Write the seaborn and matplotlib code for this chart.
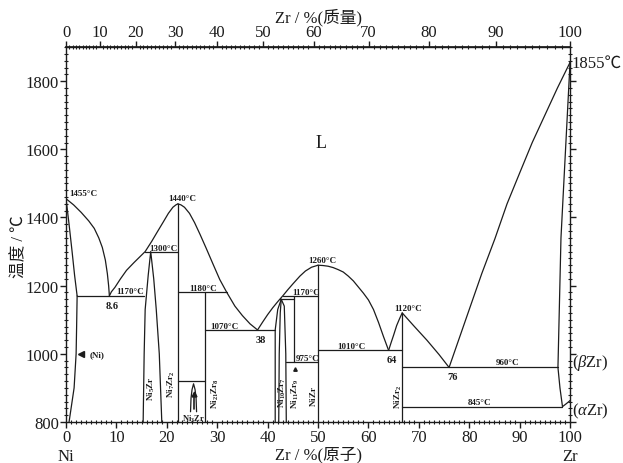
import matplotlib
matplotlib.use("Agg")
import matplotlib.pyplot as plt
from matplotlib.ticker import MultipleLocator, FixedLocator
import numpy as np
import pandas as pd
import seaborn as sns

sns.set_theme(style="ticks")
plt.rcParams["font.family"] = ["Liberation Serif", "Noto Sans CJK SC", "DejaVu Sans"]
plt.rcParams["mathtext.fontset"] = "custom"
plt.rcParams["mathtext.rm"] = "Liberation Serif"
plt.rcParams["mathtext.it"] = "Liberation Serif:italic"
plt.rcParams["mathtext.bf"] = "Liberation Serif:bold"

# ---- Ni-Zr phase boundaries: x = at.% Zr, T = temperature (°C) ----
T_MELT_NI = 1455
T_MELT_ZR = 1855

liq_ni_x = [0, 1.5, 3.0, 4.5, 5.6, 6.5, 7.2, 7.8, 8.2, 8.45, 8.6]
liq_ni_T = [1455, 1437, 1415, 1390, 1368, 1340, 1312, 1275, 1235, 1200, 1170]

liq_a_x = [8.6, 9.0, 9.7, 10.8, 12.0, 13.5, 15.7, 17.0, 18.0, 19.3, 20.3, 21.2, 21.8, 22.2]
liq_a_T = [1170, 1182, 1195, 1220, 1245, 1268, 1300, 1330, 1355, 1387, 1412, 1430, 1437, 1440]

liq_b_x = [22.2, 22.8, 23.5, 24.5, 25.5, 26.6, 27.8, 29.2, 30.5, 31.9, 33.5, 35.0, 36.5, 38.0]
liq_b_T = [1440, 1437, 1430, 1412, 1385, 1350, 1310, 1262, 1218, 1180, 1140, 1112, 1088, 1070]

liq_c_x = [38.0, 39.0, 40.0, 41.0, 42.0, 43.0, 44.0, 45.0, 46.4, 47.5, 48.7, 50.0]
liq_c_T = [1070, 1093, 1115, 1135, 1153, 1170, 1188, 1205, 1228, 1243, 1254, 1260]

liq_d_x = [50.0, 51.0, 52.0, 53.0, 54.0, 55.0, 56.0, 57.0, 58.0, 59.0, 60.0, 61.0, 62.0, 63.0, 64.0]
liq_d_T = [1260, 1259, 1257, 1253, 1247, 1240, 1228, 1214, 1196, 1178, 1158, 1130, 1092, 1050, 1010]

liq_e_x = [64.0, 64.5, 65.0, 65.6, 66.2, 66.7]
liq_e_T = [1010, 1033, 1055, 1083, 1104, 1120]

liq_f_x = [66.7, 69.0, 71.6, 74.0, 76.0]
liq_f_T = [1120, 1082, 1040, 998, 960]

liq_g_x = [76.0, 78.0, 80.0, 82.5, 85.1, 87.5, 90.1, 92.5, 95.0, 97.5, 100.0]
liq_g_T = [960, 1045, 1130, 1236, 1338, 1440, 1534, 1620, 1700, 1780, 1855]

ni_solidus_x = [0, 0.6, 1.2, 1.7, 2.2]
ni_solidus_T = [1455, 1380, 1300, 1230, 1170]
ni_solvus_x = [2.2, 2.1, 2.0, 1.6, 0.6]
ni_solvus_T = [1170, 1080, 1000, 900, 800]

ni5zr_x = [15.3, 15.5, 15.7, 16.3, 16.8, 17.4, 17.9, 18.5, 19.0]
ni5zr_T = [800, 1000, 1130, 1230, 1300, 1220, 1130, 1000, 800]

ni3zr_x = [24.7, 24.8, 25.0, 25.3, 25.6, 25.8, 25.9]
ni3zr_T = [830, 870, 895, 912, 895, 870, 830]

ni10zr7_outer_x = [41.5, 41.5, 42.0, 42.7, 43.3, 43.6, 43.7]
ni10zr7_outer_T = [800, 1070, 1130, 1160, 1140, 1000, 800]
ni10zr7_inner_x = [42.2, 42.3, 42.5, 42.7]
ni10zr7_inner_T = [800, 1000, 1120, 1160]

zr_solidus_x = [100, 98.2, 97.6]
zr_solidus_T = [1855, 1340, 960]
zr_solvus_x = [97.6, 98.0, 98.5]
zr_solvus_T = [960, 900, 845]
azr_x = [98.5, 99.2, 99.7, 100]
azr_T = [845, 853, 859, 863]

# invariant (horizontal) reactions: temperature, from x, to x
inv_T = [1170, 1300, 1180, 920, 1070, 1160, 1170, 975, 1010, 960, 845]
inv_x0 = [2.2, 15.7, 22.2, 22.2, 27.6, 42.4, 43.0, 43.7, 50.0, 66.7, 66.7]
inv_x1 = [15.5, 22.2, 31.9, 27.6, 41.5, 45.2, 50.0, 50.0, 66.7, 97.6, 98.5]

# compound lines: composition, from T, to T
cmp_x = [22.2, 27.6, 45.2, 50.0, 66.7]
cmp_T0 = [800, 800, 975, 800, 800]
cmp_T1 = [1440, 1180, 1170, 1260, 1120]

# eutectic compositions
eut_x = [8.6, 38, 64, 76]
eut_T = [1170, 1070, 1010, 960]

# ---- assemble all segments into one long table ----
curves = [
    (liq_ni_x, liq_ni_T), (liq_a_x, liq_a_T), (liq_b_x, liq_b_T),
    (liq_c_x, liq_c_T), (liq_d_x, liq_d_T), (liq_e_x, liq_e_T),
    (liq_f_x, liq_f_T), (liq_g_x, liq_g_T),
    (ni_solidus_x, ni_solidus_T), (ni_solvus_x, ni_solvus_T),
    (ni5zr_x, ni5zr_T), (ni3zr_x, ni3zr_T),
    (ni10zr7_outer_x, ni10zr7_outer_T), (ni10zr7_inner_x, ni10zr7_inner_T),
    (zr_solidus_x, zr_solidus_T), (zr_solvus_x, zr_solvus_T), (azr_x, azr_T),
]
for T, a, b in zip(inv_T, inv_x0, inv_x1):
    curves.append(([a, b], [T, T]))
for x, a, b in zip(cmp_x, cmp_T0, cmp_T1):
    curves.append(([x, x], [a, b]))

rows = []
for i, (xs, ts) in enumerate(curves):
    for order, (x, t) in enumerate(zip(xs, ts)):
        rows.append({"seg": i, "order": order, "x": x, "T": t})
df = pd.DataFrame(rows)

fig = plt.figure(figsize=(6.23, 4.64), dpi=100)
ax = fig.add_axes([0.106, 0.0884, 0.809, 0.808])

ink = "#1c1c1c"
sns.lineplot(data=df, x="x", y="T", units="seg", estimator=None, sort=False,
             color=ink, lw=0.9, ax=ax, legend=False)

# small arrow inside the Ni3Zr field
ax.plot([25.3, 25.3], [838, 880], color=ink, lw=1.2)
ax.plot([25.3], [882], marker="^", ms=3.5, color=ink)
# (Ni) pointer
ax.plot([2.9], [1000], marker="<", ms=4, color=ink)
# small marker above the Ni11Zr9 label
ax.plot([45.5], [955], marker="^", ms=2.5, color=ink)

ax.set_xlim(0, 100)
ax.set_ylim(800, 1900)

# ---- text ----
small = dict(fontsize=6.5, fontweight="bold", color=ink)

def tlabel(T):
    return f"{T}°C"

ax.text(0.6, T_MELT_NI + 17, tlabel(T_MELT_NI), ha="left", va="center", **small)
ax.text(23.1, 1440 + 16, tlabel(1440), ha="center", va="center", **small)
ax.text(19.3, 1300 + 10, tlabel(1300), ha="center", va="center", **small)
ax.text(12.8, 1170 + 13, tlabel(1170), ha="center", va="center", **small)
ax.text(27.2, 1180 + 14, tlabel(1180), ha="center", va="center", **small)
ax.text(31.5, 1070 + 13, tlabel(1070), ha="center", va="center", **small)
ax.text(47.7, 1170 + 10, tlabel(1170), ha="center", va="center", **small)
ax.text(50.9, 1260 + 14, tlabel(1260), ha="center", va="center", **small)
ax.text(48.0, 975 + 12, tlabel(975), ha="center", va="center", **small)
ax.text(56.7, 1010 + 14, tlabel(1010), ha="center", va="center", **small)
ax.text(67.8, 1120 + 14, tlabel(1120), ha="center", va="center", **small)
ax.text(87.6, 960 + 16, tlabel(960), ha="center", va="center", **small)
ax.text(82.1, 845 + 13, tlabel(845), ha="center", va="center", **small)

for x, T in zip(eut_x, eut_T):
    lab = f"{x:g}"
    ax.text(x + 0.6, T - 28, lab, ha="center", va="center",
            fontsize=7.5, fontweight="bold", color=ink)

ax.text(4.6, 1000, "(Ni)", ha="left", va="center", **small)

rot = dict(rotation=90, ha="center", va="center", fontsize=6.5, color=ink)
ax.text(17.0, 900, r"$\mathbf{Ni_5Zr}$", **rot)
ax.text(21.0, 912, r"$\mathbf{Ni_7Zr_2}$", **rot)
ax.text(29.6, 885, r"$\mathbf{Ni_{21}Zr_8}$", **rot)
ax.text(42.9, 890, r"$\mathbf{Ni_{10}Zr_7}$", **rot)
ax.text(45.6, 885, r"$\mathbf{Ni_{11}Zr_9}$", **rot)
ax.text(49.0, 876, r"$\mathbf{NiZr}$", **rot)
ax.text(65.9, 876, r"$\mathbf{NiZr_2}$", **rot)
ax.text(25.3, 811, r"$\mathbf{Ni_3Zr}$", ha="center", va="center",
        fontsize=6, color=ink)

ax.text(50.6, 1620, "L", ha="center", va="center", fontsize=13, color=ink)

ax.text(100.25, T_MELT_ZR, f"{T_MELT_ZR}℃", ha="left", va="center",
        fontsize=12, color=ink, clip_on=False)
ax.text(100.4, 977, r"($\beta$Zr)", ha="left", va="center",
        fontsize=12, color=ink, clip_on=False)
ax.text(100.4, 835, r"($\alpha$Zr)", ha="left", va="center",
        fontsize=12, color=ink, clip_on=False)

# ---- axes, ticks ----
for s in ax.spines.values():
    s.set_visible(True)
    s.set_color(ink)
    s.set_linewidth(1.0)

ax.xaxis.set_major_locator(MultipleLocator(10))
ax.xaxis.set_minor_locator(MultipleLocator(1))
ax.yaxis.set_major_locator(FixedLocator(np.arange(800, 1801, 200)))
ax.yaxis.set_minor_locator(MultipleLocator(20))
ax.tick_params(axis="both", which="major", direction="out", length=4,
               width=1, color=ink, labelsize=12, labelcolor=ink, pad=1)
ax.tick_params(axis="both", which="minor", direction="inout", length=2.5,
               width=0.8, color=ink)
ax.tick_params(axis="y", which="both", right=True, labelright=False)
ax.tick_params(axis="x", which="both", top=False)
ax.set_xlabel("")
ax.set_ylabel("")

# weight-percent axis on top
M_ZR, M_NI = 91.224, 58.693

def at_to_wt(x):
    x = np.asarray(x, dtype=float)
    num = x * M_ZR
    den = x * M_ZR + (100 - x) * M_NI
    return 100 * num / np.where(den == 0, 1, den)

def wt_to_at(w):
    w = np.asarray(w, dtype=float)
    a = w / M_ZR
    b = (100 - w) / M_NI
    den = a + b
    return 100 * a / np.where(den == 0, 1, den)

sec = ax.secondary_xaxis("top", functions=(at_to_wt, wt_to_at))
sec.xaxis.set_major_locator(FixedLocator(np.arange(0, 101, 10)))
sec.xaxis.set_minor_locator(FixedLocator(np.arange(0, 101, 1)))
sec.tick_params(which="major", direction="out", length=4, width=1,
                color=ink, labelsize=12, labelcolor=ink, pad=1)
sec.tick_params(which="minor", direction="inout", length=2.5, width=0.8, color=ink)
sec.spines["top"].set_color(ink)
sec.set_xlabel("Zr / %(质量)", fontsize=12, color=ink, labelpad=2)

# bottom axis title and end-member names
ax.text(0.5, -0.085, "Zr / %(原子)", transform=ax.transAxes,
        ha="center", va="center", fontsize=12, color=ink)
ax.text(0.0, -0.09, "Ni", transform=ax.transAxes,
        ha="center", va="center", fontsize=12, color=ink)
ax.text(1.0, -0.09, "Zr", transform=ax.transAxes,
        ha="center", va="center", fontsize=12, color=ink)
fig.text(19 / 623, 1 - 247 / 464, "温度 / ℃", rotation=90, ha="center",
         va="center", fontsize=12, color=ink)

fig.savefig("out.png", dpi=100, facecolor="white")
